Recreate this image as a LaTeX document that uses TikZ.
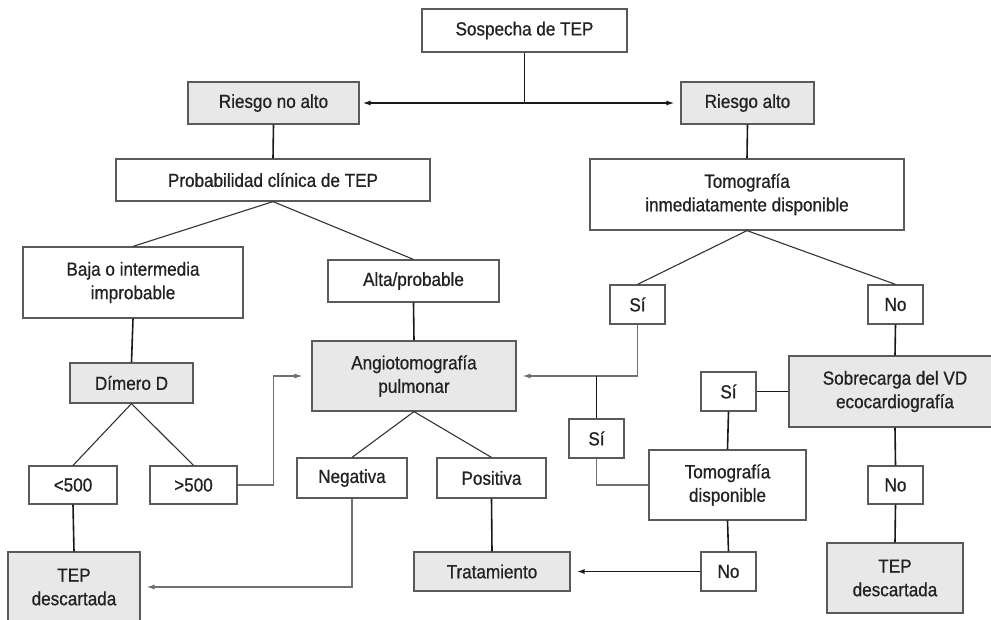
\documentclass[tikz,border=0pt]{standalone}
\usepackage{fontspec}
\setmainfont{Liberation Sans}[FakeStretch=0.9,FakeBold=0.7]
\usetikzlibrary{arrows.meta}
\definecolor{boxline}{HTML}{5A5A5A}
\definecolor{boxfill}{HTML}{E8E8E8}
\definecolor{txt}{HTML}{222222}
\definecolor{elbow}{HTML}{707070}
\tikzset{
  box/.style={draw=boxline, line width=1.2pt, fill=white, text=txt, align=center,
    inner sep=0pt, font=\fontsize{19}{23.5}\selectfont},
  gbox/.style={box, fill=boxfill},
  thickln/.style={draw=black!90, line width=1.6pt},
  diagln/.style={draw=black!80, line width=1.1pt},
  elbowln/.style={draw=elbow, line width=1.1pt},
  arr/.style={-{Latex[length=8pt,width=5pt]}, shorten >=6pt},
}
\begin{document}
\begin{tikzpicture}[x=1pt,y=-1pt]
\useasboundingbox (0,0) rectangle (991,619);
\clip (0,0) rectangle (991,619);
% nodes
\node[box, minimum width=205, minimum height=43] (sosp) at (524.5,30.5) {Sospecha de TEP};
\node[gbox, minimum width=171, minimum height=42] (rno) at (273.5,103) {Riesgo no alto};
\node[gbox, minimum width=133, minimum height=42] (ralto) at (747.5,103) {Riesgo alto};
\node[box, minimum width=314, minimum height=42] (prob) at (273,180) {Probabilidad clínica de TEP};
\node[box, minimum width=314, minimum height=71] (tinm) at (747,194.5) {Tomografía\\inmediatamente disponible};
\node[box, minimum width=220, minimum height=71] (baja) at (133,282.5) {Baja o intermedia\\improbable};
\node[box, minimum width=171, minimum height=42] (alta) at (413.5,281) {Alta/probable};
\node[box, minimum width=55, minimum height=39] (si1) at (637.5,304.5) {Sí};
\node[box, minimum width=55, minimum height=39] (no1) at (895.5,304.5) {No};
\node[gbox, minimum width=123, minimum height=40] (dimero) at (131.5,383) {Dímero D};
\node[gbox, minimum width=204, minimum height=70] (angio) at (414,376) {Angiotomografía\\pulmonar};
\node[box, minimum width=88, minimum height=38] (lt500) at (73,485) {<500};
\node[box, minimum width=87, minimum height=38] (gt500) at (193.5,485) {>500};
\node[box, minimum width=110, minimum height=40] (neg) at (352,478) {Negativa};
\node[box, minimum width=109, minimum height=40] (pos) at (491.5,478) {Positiva};
\node[gbox, minimum width=132, minimum height=70] (tep1) at (74,587) {TEP\\descartada};
\node[gbox, minimum width=156, minimum height=39] (trat) at (492,571.5) {Tratamiento};
\node[box, minimum width=55, minimum height=39] (si2) at (596.5,438.5) {Sí};
\node[box, minimum width=157, minimum height=70] (tdisp) at (727.5,485) {Tomografía\\disponible};
\node[box, minimum width=55, minimum height=39] (si3) at (728.5,391.5) {Sí};
\node[gbox, minimum width=212, minimum height=71] (sob) at (895,391.5) {Sobrecarga del VD\\ecocardiografía};
\node[box, minimum width=55, minimum height=38] (no2) at (895.5,485) {No};
\node[gbox, minimum width=136, minimum height=70] (tep2) at (895,578) {TEP\\descartada};
\node[box, minimum width=55, minimum height=39] (no3) at (728.5,571.5) {No};
% connectors
\coordinate (j1) at (sosp.south |- rno.east);
\draw[thickln] (sosp.south) -- (j1);
\draw[thickln, line width=1.3pt, arr, shorten >=3pt] (j1) -- (rno.east);
\draw[thickln, line width=1.3pt, arr] (j1) -- (ralto.west);
\draw[thickln] (rno.south) -- (prob.north);
\draw[thickln] (ralto.south) -- (tinm.north);
\draw[diagln] (prob.south) -- (baja.north);
\draw[diagln] (prob.south) -- (alta.north);
\draw[diagln] (tinm.south) -- (si1.north);
\draw[diagln] (tinm.south) -- (no1.north);
\draw[thickln] (baja.south) -- (dimero.north);
\draw[thickln] (alta.south) -- (angio.north);
\draw[diagln] (dimero.south) -- (lt500.north);
\draw[diagln] (dimero.south) -- (gt500.north);
\draw[diagln] (angio.south) -- (neg.north);
\draw[diagln] (angio.south) -- (pos.north);
\draw[thickln] (lt500.south) -- (tep1.north);
\draw[thickln] (pos.south) -- (trat.north);
\coordinate (e1) at ([xshift=36]gt500.east);
\draw[elbowln, arr, shorten >=9pt] (gt500.east) -- (e1) |- (angio.west);
\draw[elbowln, arr] (neg.south) |- (tep1.east);
\draw[elbowln, arr] (si1.south) |- (angio.east);
\coordinate (j2) at (si2.north |- angio.east);
\draw[thickln] (si2.north) -- (j2);
\draw[elbowln] (si2.south) |- (tdisp.west);
\draw[thickln] (no1.south) -- (sob.north);
\draw[thickln] (sob.west) -- (si3.east);
\draw[thickln] (si3.south) -- (tdisp.north);
\draw[thickln] (sob.south) -- (no2.north);
\draw[thickln] (no2.south) -- (tep2.north);
\draw[thickln] (tdisp.south) -- (no3.north);
\draw[thickln, arr] (no3.west) -- (trat.east);
\end{tikzpicture}
\end{document}
